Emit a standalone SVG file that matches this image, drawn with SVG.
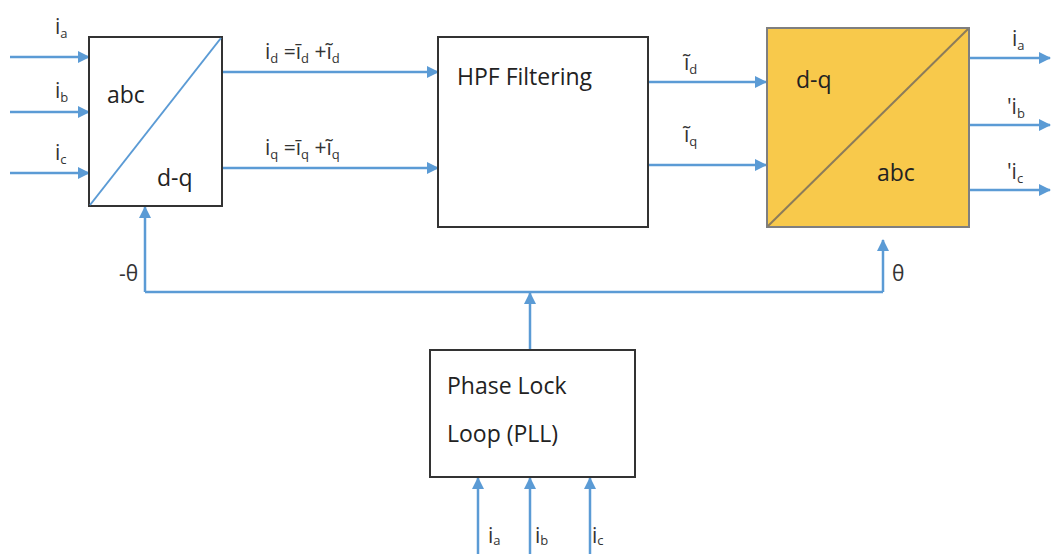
<svg xmlns="http://www.w3.org/2000/svg" width="1052" height="554" viewBox="0 0 1052 554">
<style>
.ln{stroke:#5b9bd5;stroke-width:2.5;fill:none}
.box{fill:#fff;stroke:#333;stroke-width:2}
.t{font-family:"Open Sans","Liberation Sans",sans-serif;fill:#222;font-size:23px}
.l{font-family:"Open Sans","Liberation Sans",sans-serif;fill:#333;font-size:21px}
.s{font-size:13px}
</style>
<defs>
<marker id="ah" viewBox="0 0 12 12" refX="11" refY="6" markerWidth="12" markerHeight="12" markerUnits="userSpaceOnUse" orient="auto">
<path d="M0,0 L12,6 L0,12 Z" fill="#5b9bd5"/>
</marker>
</defs>
<rect width="1052" height="554" fill="#fff"/>
<g id="connectors">
<line class="ln" x1="10" y1="57" x2="89" y2="57" marker-end="url(#ah)"/>
<line class="ln" x1="10" y1="112" x2="89" y2="112" marker-end="url(#ah)"/>
<line class="ln" x1="10" y1="173" x2="89" y2="173" marker-end="url(#ah)"/>
<line class="ln" x1="222" y1="72" x2="438" y2="72" marker-end="url(#ah)"/>
<line class="ln" x1="222" y1="168" x2="438" y2="168" marker-end="url(#ah)"/>
<line class="ln" x1="648" y1="82" x2="766" y2="82" marker-end="url(#ah)"/>
<line class="ln" x1="648" y1="165" x2="766" y2="165" marker-end="url(#ah)"/>
<line class="ln" x1="969" y1="58" x2="1050" y2="58" marker-end="url(#ah)"/>
<line class="ln" x1="969" y1="125" x2="1050" y2="125" marker-end="url(#ah)"/>
<line class="ln" x1="969" y1="190" x2="1050" y2="190" marker-end="url(#ah)"/>
<polyline class="ln" points="145,292 145,207" marker-end="url(#ah)"/>
<line class="ln" x1="145" y1="292" x2="883" y2="292"/>
<line class="ln" x1="883" y1="292" x2="883" y2="240" marker-end="url(#ah)"/>
<line class="ln" x1="530" y1="350" x2="530" y2="293" marker-end="url(#ah)"/>
<line class="ln" x1="478" y1="554" x2="478" y2="478" marker-end="url(#ah)"/>
<line class="ln" x1="530" y1="554" x2="530" y2="478" marker-end="url(#ah)"/>
<line class="ln" x1="590" y1="554" x2="590" y2="478" marker-end="url(#ah)"/>
</g>
<g id="abc2dq">
<rect class="box" x="89" y="37" width="133" height="169" stroke="#555"/>
<line x1="90" y1="205" x2="221" y2="38" stroke="#5b9bd5" stroke-width="2"/>
<text class="t" x="107" y="103">abc</text>
<text class="t" x="157" y="186">d-q</text>
</g>
<g id="hpf">
<rect class="box" x="438" y="37" width="210" height="190"/>
<text class="t" x="457" y="85">HPF Filtering</text>
</g>
<g id="dq2abc">
<rect x="767" y="28" width="202" height="199" fill="#f8c94b" stroke="#7f7f7f" stroke-width="2"/>
<line x1="768" y1="226" x2="968" y2="29" stroke="#8c7c5a" stroke-width="2"/>
<text class="t" x="796" y="88">d-q</text>
<text class="t" x="877" y="181">abc</text>
</g>
<g id="pll">
<rect class="box" x="430" y="350" width="205" height="127"/>
<text class="t" x="447" y="394">Phase Lock</text>
<text class="t" x="447" y="442">Loop (PLL)</text>
</g>
<g id="labels">
<text class="l" x="55" y="34">i<tspan class="s" dy="4">a</tspan></text>
<text class="l" x="55" y="98">i<tspan class="s" dy="4">b</tspan></text>
<text class="l" x="55" y="160">i<tspan class="s" dy="4">c</tspan></text>
<text class="l" x="265" y="59">i<tspan class="s" dy="4">d</tspan><tspan dy="-4"> =ī</tspan><tspan class="s" dy="4">d</tspan><tspan dy="-4"> +ĩ</tspan><tspan class="s" dy="4">d</tspan></text>
<text class="l" x="265" y="155">i<tspan class="s" dy="4">q</tspan><tspan dy="-4"> =ī</tspan><tspan class="s" dy="4">q</tspan><tspan dy="-4"> +ĩ</tspan><tspan class="s" dy="4">q</tspan></text>
<text class="l" x="684" y="70">ĩ<tspan class="s" dy="4">d</tspan></text>
<text class="l" x="684" y="142">ĩ<tspan class="s" dy="4">q</tspan></text>
<text class="l" x="1012" y="46">i<tspan class="s" dy="4">a</tspan></text>
<text class="l" x="1007" y="114">'i<tspan class="s" dy="4">b</tspan></text>
<text class="l" x="1007" y="179">'i<tspan class="s" dy="4">c</tspan></text>
<text class="l" x="119" y="281">-θ</text>
<text class="l" x="892" y="281">θ</text>
<text class="l" x="488" y="543">i<tspan class="s" dy="2">a</tspan></text>
<text class="l" x="535" y="543">i<tspan class="s" dy="2">b</tspan></text>
<text class="l" x="592" y="543">i<tspan class="s" dy="2">c</tspan></text>
</g>
</svg>
